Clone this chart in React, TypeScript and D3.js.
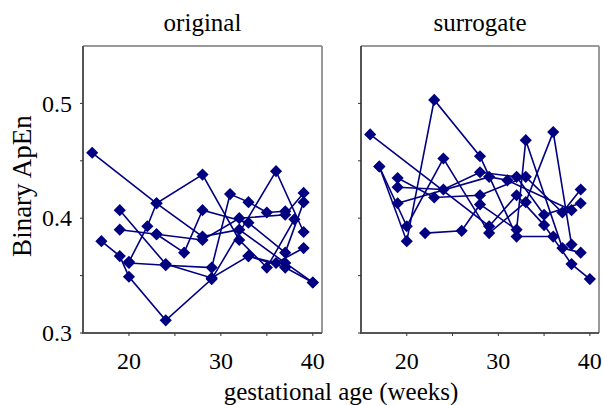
import React from 'react';
import * as d3 from 'd3';

// one array per fetus: [gestational age in weeks, binary ApEn]
const orig1 = [[16, 0.457], [23, 0.413], [28, 0.384], [32, 0.390], [37, 0.361], [40, 0.344]];
const orig2 = [[20, 0.361], [24, 0.359], [29, 0.357], [31, 0.421], [33, 0.414], [35, 0.405], [37, 0.406]];
const orig3 = [[19, 0.407], [24, 0.360], [29, 0.348], [33, 0.367], [36, 0.361], [39, 0.374]];
const orig4 = [[17, 0.380], [19, 0.367], [20, 0.349], [24, 0.311], [29, 0.347], [36, 0.441], [39, 0.388]];
const orig5 = [[19, 0.390], [23, 0.386], [28, 0.381], [32, 0.400], [37, 0.403], [39, 0.422]];
const orig6 = [[20, 0.362], [22, 0.393], [23, 0.413], [28, 0.438], [32, 0.381], [35, 0.357], [38, 0.399]];
const orig7 = [[23, 0.386], [26, 0.370], [28, 0.407], [33, 0.396], [37, 0.370], [39, 0.414]];
const orig8 = [[33, 0.367], [37, 0.357], [40, 0.344]];

const surr1 = [[16, 0.473], [29, 0.393], [32, 0.420], [35, 0.394], [38, 0.360], [40, 0.347]];
const surr2 = [[17, 0.445], [20, 0.380], [23, 0.503], [28, 0.454], [32, 0.384], [36, 0.384]];
const surr3 = [[17, 0.445], [20, 0.393], [24, 0.452], [29, 0.387], [33, 0.414], [36, 0.475], [38, 0.377]];
const surr4 = [[19, 0.435], [23, 0.418], [28, 0.420], [33, 0.436], [37, 0.405], [39, 0.425]];
const surr5 = [[19, 0.427], [24, 0.425], [28, 0.440], [32, 0.436], [35, 0.403], [39, 0.413]];
const surr6 = [[19, 0.413], [29, 0.436], [31, 0.433], [38, 0.407]];
const surr7 = [[22, 0.387], [26, 0.389], [28, 0.412], [32, 0.390], [33, 0.468], [37, 0.374], [39, 0.370]];

const originalSeries = [orig1, orig2, orig3, orig4, orig5, orig6, orig7, orig8];
const surrogateSeries = [surr1, surr2, surr3, surr4, surr5, surr6, surr7];

const xTicks = [20, 25, 30, 35, 40];
const xLabels = [20, 30, 40];
const yTicks = [0.3, 0.35, 0.4, 0.45, 0.5];
const yLabels = [0.3, 0.4, 0.5];

const navy = '#000080';
const font = '"Liberation Serif", "Times New Roman", serif';

const top = 46;
const bottom = 333;

const panels = [
  { title: 'original', x0: 83, x1: 322, series: originalSeries, yText: true },
  { title: 'surrogate', x0: 361, x1: 599, series: surrogateSeries, yText: false },
];

const y = d3.scaleLinear().domain([0.3, 0.55]).range([bottom, top]);
const diamond = d3.symbol(d3.symbolSquare, 74)();

const Panel = ({ p }) => {
  const x = d3.scaleLinear().domain([15, 41]).range([p.x0, p.x1]);
  const line = d3.line().x((d) => x(d[0])).y((d) => y(d[1]));

  return (
    <g>
      <text x={(p.x0 + p.x1) / 2} y={31} textAnchor="middle" fontSize={25} fontFamily={font}>
        {p.title}
      </text>

      {/* frame: grey top/right, darker axes */}
      <line x1={p.x0} x2={p.x1} y1={top} y2={top} stroke="#999" strokeWidth={2} />
      <line x1={p.x1} x2={p.x1} y1={top} y2={bottom} stroke="#999" strokeWidth={2} />
      <line x1={p.x0} x2={p.x0} y1={top} y2={bottom + 1} stroke="#555" strokeWidth={2} />
      <line x1={p.x0 - 1} x2={p.x1} y1={bottom} y2={bottom} stroke="#555" strokeWidth={2} />

      {xTicks.map((t) => (
        <line key={'xt' + t} x1={x(t)} x2={x(t)} y1={bottom} y2={bottom + 3} stroke="#333" strokeWidth={1} />
      ))}
      {yTicks.map((t) => (
        <line key={'yt' + t} x1={p.x0} x2={p.x0 - 3} y1={y(t)} y2={y(t)} stroke="#333" strokeWidth={1} />
      ))}
      {xLabels.map((t) => (
        <text key={'xl' + t} x={x(t)} y={369} textAnchor="middle" fontSize={24} fontFamily={font}>
          {t}
        </text>
      ))}
      {p.yText &&
        yLabels.map((t) => (
          <text key={'yl' + t} x={p.x0 - 11} y={y(t)} dy="0.34em" textAnchor="end" fontSize={24} fontFamily={font}>
            {d3.format('.1f')(t)}
          </text>
        ))}

      {p.series.map((s, i) => (
        <path key={'l' + i} d={line(s)} fill="none" stroke={navy} strokeWidth={1.6} />
      ))}
      {p.series.map((s, i) =>
        s.map((d, j) => (
          <path
            key={'m' + i + '-' + j}
            d={diamond}
            transform={`translate(${x(d[0])},${y(d[1])}) rotate(45)`}
            fill={navy}
          />
        ))
      )}
    </g>
  );
};

export default function App() {
  return (
    <svg width={604} height={405} style={{ position: 'absolute', left: 0, top: 0, background: '#fff' }}>
      <rect width={604} height={405} fill="#fff" />
      {panels.map((p) => (
        <Panel key={p.title} p={p} />
      ))}
      <text
        transform="translate(31,186) rotate(-90)"
        textAnchor="middle"
        fontSize={27}
        fontFamily={font}
      >
        Binary ApEn
      </text>
      <text x={341} y={400} textAnchor="middle" fontSize={25} fontFamily={font}>
        gestational age (weeks)
      </text>
    </svg>
  );
}
